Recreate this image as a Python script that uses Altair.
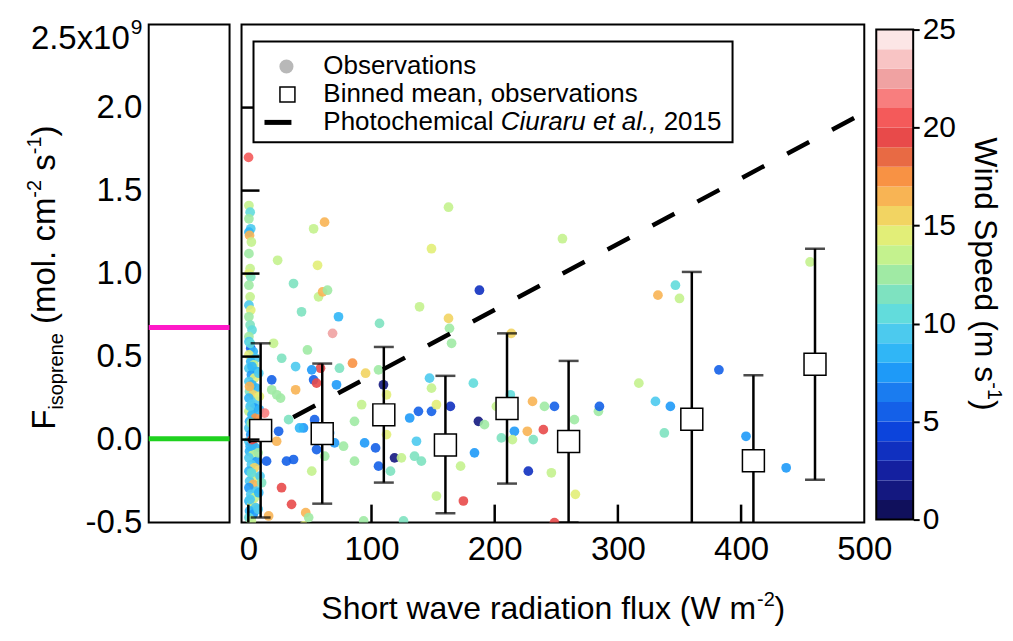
import altair as alt
import pandas as pd

FONT = "Liberation Sans"

# ---------------- data ----------------
# dense column of observations at (near) zero radiation: x, y (1e9 molec cm-2 s-1), wind speed
col_x = [0.5, 1.5, 0.5, 2, 0.5, 1, 2.5, 0.5, 1.5, 0.5, 2, 0.5, 1.5, 0.5, 2, 0.5, 1.5, 3, 0.5,
         0.5, 2, 4, 0.5, 6, 2, 4.5, 0.5, 7, 2.5, 5, 0.5, 3, 6.5, 1, 4, 0.5, 7, 2.5, 5, 0.5, 3, 6,
         1, 4, 0.5, 7.5, 2, 5, 0.5, 3.5, 6, 1, 4, 0.5, 7, 2.5, 5, 0.5, 3, 6, 1, 4, 0.5, 7, 2, 5,
         0.5, 3, 6, 1, 4, 0.5, 2.5, 1.5, 3, 1.5, 2.5, 1.5, 2.5, 1.5, 3, 1,
         8.5, 9, 8, 9.5, 8.5, 9, 8]
col_y = [1.41, 1.37, 1.33, 1.27, 1.25, 1.23, 1.19, 1.12, 1.03, 1.00, 0.98, 0.93, 0.86, 0.81, 0.78, 0.74, 0.69, 0.66, 0.62,
         0.59, 0.55, 0.53, 0.51, 0.49, 0.47, 0.45, 0.43, 0.41, 0.39, 0.37, 0.35, 0.33, 0.31, 0.29, 0.27, 0.25, 0.23, 0.21, 0.19, 0.17, 0.15, 0.13,
         0.11, 0.09, 0.07, 0.05, 0.03, 0.01, -0.01, -0.03, -0.05, -0.07, -0.09, -0.11, -0.13, -0.15, -0.17, -0.19, -0.21, -0.23, -0.25, -0.27, -0.29, -0.31, -0.33, -0.35,
         -0.37, -0.39, -0.41, -0.43, -0.45, -0.47, -0.49, 0.58, 0.44, 0.20, 0.10, -0.04, -0.20, -0.36, 0.00, 0.32,
         0.40, 0.18, -0.08, -0.22, -0.32, 0.26, -0.42]
col_ws = [13.5, 10.5, 12.5, 9, 8, 16, 13, 12.5, 13.5, 14.5, 11, 12.5, 13, 9, 14.5, 12.5, 11, 10, 12.5,
          9, 5, 8.5, 14.5, 9.5, 8, 13, 9.5, 8, 7.5, 14, 9, 8.5, 8.5, 11, 15, 8, 9.5, 9.5, 7, 13.5, 8.5, 17,
          8.5, 9, 9, 14.5, 7.5, 11, 9, 18.5, 8.5, 8, 13.5, 9.5, 7.5, 9, 15, 8.5, 11, 14, 9, 16.5, 7.5, 9, 9.5, 13,
          8, 14.5, 9, 8.5, 7, 10, 13.5, 10, 8, 9, 12.5, 8, 10, 9, 19, 16,
          9, 8, 12.5, 9.5, 8.5, 14, 9]

# scattered observations at non-zero radiation
obs_x = [0.2, 23.8, 36.7, 43.2, 53.0, 61.9, 56.2, 57.0, 60.3, 64.3, 73.2, 68.4, 106.5, 139, 148.7, 162.5, 187.6,
         162.5, 163.3, 165, 213.5, 20.5, 48, 255, 332.5, 346.7, 350, 456, 382, 317, 330.5, 342.6, 337.7, 240.4,
         248.5, 264.7, 284.2, 285, 239.5, 246, 265.5, 248.5, 404, 436.6, 84.6, 95.2, 105.7, 58.6, 74, 51.5, 53,
         55.4, 71.6, 109.7, 112.2, 147.1, 148.7, 182.7, 92, 86.2, 53.8, 44.8, 138.1, 131, 148.7, 152.7, 164,
         186.8, 191.7, 212.7, 201.4, 230.7, 216, 226.5, 231.3, 205.4, 214.4, 112.2, 136.5, 134.9, 140.5, 94.4,
         103.3, 77.3, 70, 55.4, 62, 86.2, 118.7, 124.3, 105.7, 115.4, 183.6, 172.3, 227.3, 51.5, 152.7, 174.6,
         46.6, 93.6, 126, 19, 27.1, 38.4, 38.4, 19, 23.1, 26.2, 41.6, 32.7, 24.6, 13.2, 23, 14.8, 31, 36.7, 10.8,
         27, 35.1, 45, 16.5, 49, 66]
obs_y = [1.70, 1.08, 0.94, 0.77, 1.27, 1.31, 1.05, 0.86, 0.89, 0.90, 0.74, 0.64, 0.70, 0.80, 1.15, 1.40, 0.90,
         0.73, 0.67, 0.58, 0.64, 0.58, 0.54, 1.21, 0.87, 0.93, 0.85, 1.07, 0.42, 0.34, 0.23, 0.20, 0.04, 0.20,
         0.20, 0.12, 0.17, 0.20, 0.06, -0.20, -0.33, -0.50, 0.02, -0.17, 0.46, 0.40, 0.42, 0.43, 0.43, 0.42, 0.36,
         0.34, 0.33, 0.33, 0.27, 0.37, 0.31, 0.34, 0.21, 0.11, 0.12, 0.07, 0.17, 0.13, 0.17, 0.21, 0.20,
         0.11, 0.09, 0.27, 0.20, 0.23, 0.05, 0.05, 0.00, 0.01, 0.00, 0.03, -0.01, -0.10, -0.13, -0.02,
         -0.05, -0.04, -0.02, -0.06, -0.10, -0.13, -0.11, -0.11, -0.16, -0.19, -0.08, -0.16, -0.19, -0.19, -0.34, -0.37,
         -0.44, -0.49, -0.49, 0.36, 0.49, 0.44, 0.30, 0.30, 0.27, 0.25, 0.07, 0.12, 0.05, 0.16, -0.01, -0.13, -0.13, -0.12, -0.26,
         -0.29, -0.39, -0.52, -0.46, -0.47, 0.04]
obs_ws = [20, 13.5, 11, 11, 13, 16.5, 14.5, 13.5, 16.5, 12.5, 8.5, 22.5, 11, 13.5, 14.5, 13.5, 3.5,
          15, 12.5, 12.5, 15.5, 13.5, 12.5, 13.5, 16.5, 10.5, 13.5, 13, 5.5, 13.5, 9.5, 7.5, 11, 12.5,
          5, 12.5, 12.5, 5.5, 19, 13.5, 14.8, 19, 7.5, 7.5, 17.5, 15.5, 12.5, 19, 11, 7.5, 5,
          19, 7.5, 1.5, 14, 9.5, 13.5, 10.5, 13.5, 12, 5, 7.5, 5.5, 7.5, 5.5, 14.5, 3.5,
          1.5, 12.5, 10.5, 13.5, 16.5, 7.5, 16.5, 11, 11, 13.5, 14.5, 9, 11, 11, 7.5,
          5, 12.5, 7.5, 5, 12.5, 12.5, 1.5, 13.5, 5, 11, 7.5, 13.5, 3, 13.5, 13.5, 19,
          16, 12.5, 11, 5, 11, 9, 16, 12.5, 12.5, 12, 8, 11, 5, 21, 16.5, 5, 5.5, 5.5, 11,
          19, 19, 14.5, 16.5, 12.5, 7.5]

# binned means with error bars
bin_x = [10, 60, 110, 160, 210, 260, 360, 410, 460]
bin_mean = [0.055, 0.036, 0.149, -0.032, 0.187, -0.012, 0.122, -0.128, 0.454]
bin_lo = [-0.47, -0.386, -0.259, -0.444, -0.265, -0.50, -0.77, -0.64, -0.242]
bin_hi = [0.58, 0.458, 0.558, 0.384, 0.64, 0.474, 1.01, 0.387, 1.15]

# photochemical flux (Ciuraru et al., 2015)
photo_x = [0, 500]
photo_y = [-0.01, 1.97]

# reference levels in the left panel
ref_levels = [0.675, 0.005]
ref_colors = ["#ff19c8", "#1fd21f"]

# colour bar (wind speed, m s-1)
ws_edges = [1, 2, 3, 4, 5, 6, 7, 8, 9, 10, 11, 12, 13, 14, 15, 16, 17, 18, 19, 20, 21, 22, 23, 24]
ws_colors = ["#10105c", "#141880", "#1420a0", "#1030c0", "#0c44dc", "#1460e8", "#1a7cf0", "#1e9af8",
             "#30b6f6", "#4ccaee", "#62dcdc", "#7ee2c0", "#a0eaa4", "#c4f28e", "#e2ee78", "#f2d462",
             "#f8b454", "#f89244", "#e86a44", "#e84a4a", "#f45a5a", "#f87e7e", "#f0a2a2", "#f8c4c4",
             "#fce6e6"]
cb_lo = list(range(0, 25))
cb_hi = list(range(1, 26))
cb_mid = [v + 0.5 for v in cb_lo]

x_ticks = [0, 100, 200, 300, 400, 500]
x_inner_ticks = [0, 100, 200, 300, 400]
y_ticks = [-0.5, 0.0, 0.5, 1.0, 1.5, 2.0, 2.5]
y_inner_ticks = [0.0, 0.5, 1.0, 1.5, 2.0]
cb_ticks = [0, 5, 10, 15, 20, 25]

# ---------------- sizes ----------------
LW, MW, CW, H = 81, 624, 37, 499
TICKFS = 33

obs_df = pd.DataFrame({"x": col_x + obs_x, "y": col_y + obs_y, "ws": col_ws + obs_ws})
bin_df = pd.DataFrame({"x": bin_x, "y": bin_mean, "lo": bin_lo, "hi": bin_hi})
photo_df = pd.DataFrame({"x": photo_x, "y": photo_y})
one = pd.DataFrame({"a": [0]})

xs = alt.Scale(domain=[-5.5, 500], nice=False, zero=False)
ys = alt.Scale(domain=[-0.5, 2.5], nice=False, zero=False)
cscale = alt.Scale(type="threshold", domain=ws_edges, range=ws_colors)

x_axis = alt.Axis(values=x_ticks, labelFontSize=TICKFS, labelFont=FONT, labelColor="black", ticks=False,
                  domain=False, grid=False, labelPadding=11, title=None, labelFlush=False, labelOverlap=False)


def X(field="x"):
    return alt.X(f"{field}:Q", scale=xs, axis=x_axis)


def Y(field="y"):
    return alt.Y(f"{field}:Q", scale=ys, axis=None)


def txt(text, x, y, size, angle=0, align="left", baseline="alphabetic", style="normal", dy=0):
    return alt.Chart(one).mark_text(text=text, fontSize=size, font=FONT, angle=angle, align=align,
                                    baseline=baseline, fontStyle=style, color="black", dy=dy).encode(
        x=alt.value(x), y=alt.value(y))


# ---------------- left panel ----------------
left_axis = alt.Axis(values=y_ticks, labelFontSize=TICKFS, labelFont=FONT, labelColor="black", ticks=False,
                     domain=False, grid=False, labelPadding=7, title=None, labelFlush=False, labelOverlap=False,
                     labelExpr="datum.value == 2.5 ? '' : (datum.value < 0 ? '-' + format(-datum.value, '.1f') : format(datum.value, '.1f'))")

left_layers = []
for lvl, col in zip(ref_levels, ref_colors):
    left_layers.append(
        alt.Chart(pd.DataFrame({"y": [lvl]})).mark_rule(color=col, strokeWidth=5).encode(
            y=alt.Y("y:Q", scale=ys, axis=left_axis), x=alt.value(0), x2=alt.value(LW)))

# top label 2.5x10^9
left_layers.append(txt("2.5x10", -19, 0, TICKFS, align="right", baseline="middle", dy=14))
left_layers.append(txt("9", -18, 0, 21, align="left", baseline="middle", dy=3))

# y title  F_isoprene (mol. cm^-2 s^-1), rotated
S, s = 33, 20
yb = -94
left_layers += [
    txt("F", yb, 406, S, angle=270),
    txt("isoprene", yb + 8, 385.8, s, angle=270),
    txt("(mol. cm", yb, 299.9, S, angle=270),
    txt("-2", yb - 14, 173.4, s, angle=270),
    txt("s", yb, 146.4, S, angle=270),
    txt("-1", yb - 14, 129.9, s, angle=270),
    txt(")", yb, 112.1, S, angle=270),
]
left = alt.layer(*left_layers).properties(width=LW, height=H)

# ---------------- main panel ----------------
points = alt.Chart(obs_df).mark_circle(size=95, opacity=0.9, clip=True).encode(
    x=X(), y=Y(), color=alt.Color("ws:Q", scale=cscale, legend=None))

photo = alt.Chart(photo_df).mark_line(color="black", strokeWidth=4.5, strokeDash=[25, 26], clip=True).encode(
    x=X(), y=Y())

err = alt.Chart(bin_df).mark_rule(color="black", strokeWidth=2.5, clip=True).encode(
    x=X(), y=Y("lo"), y2="hi:Q")
cap_lo = alt.Chart(bin_df).mark_tick(color="black", orient="horizontal", size=20, thickness=2.5, clip=True).encode(
    x=X(), y=Y("lo"))
cap_hi = alt.Chart(bin_df).mark_tick(color="black", orient="horizontal", size=20, thickness=2.5, clip=True).encode(
    x=X(), y=Y("hi"))
squares = alt.Chart(bin_df).mark_square(size=484, fill="white", stroke="black", strokeWidth=1.5, opacity=1).encode(
    x=X(), y=Y())

xt = alt.Chart(pd.DataFrame({"x": x_inner_ticks})).mark_rule(color="black", strokeWidth=2.5).encode(
    x=X(), y=alt.value(H), y2=alt.value(H - 18))
yt = alt.Chart(pd.DataFrame({"y": y_inner_ticks})).mark_rule(color="black", strokeWidth=2.5).encode(
    y=Y(), x=alt.value(0), x2=alt.value(18))

# legend (drawn manually)
leg_box = alt.Chart(one).mark_rect(fill="white", stroke="black", strokeWidth=2).encode(
    x=alt.value(12), x2=alt.value(492), y=alt.value(17), y2=alt.value(118))
leg_circle = alt.Chart(one).mark_circle(size=200, color="#b8b8b8", opacity=1).encode(
    x=alt.value(45), y=alt.value(42))
leg_square = alt.Chart(one).mark_square(size=225, fill="white", stroke="black", strokeWidth=1.5, opacity=1).encode(
    x=alt.value(46), y=alt.value(70))
leg_dash = alt.Chart(one).mark_rule(color="black", strokeWidth=5).encode(
    x=alt.value(23), x2=alt.value(50), y=alt.value(98))
LF = 26
leg_texts = [
    txt("Observations", 82, 42, LF, baseline="middle"),
    txt("Binned mean, observations", 82, 70, LF, baseline="middle"),
    txt("Photochemical", 82, 98, LF, baseline="middle"),
    txt("Ciuraru et al.,", 259.7, 98, LF, baseline="middle", style="italic"),
    txt("2015", 423, 98, LF, baseline="middle"),
]

# x title
xtitle = [
    txt("Short wave radiation flux (W m", 80, 596, 32),
    txt("-2", 516.5, 583, 20),
    txt(")", 534, 596, 32),
]

main = alt.layer(points, photo, err, cap_lo, cap_hi, squares, xt, yt,
                 leg_box, leg_circle, leg_square, leg_dash, *leg_texts, *xtitle).properties(width=MW, height=H)

# ---------------- colour bar ----------------
cb_df = pd.DataFrame({"lo": cb_lo, "hi": cb_hi, "ws": cb_mid})
cb_scale = alt.Scale(domain=[0, 25], range=[496, 5], nice=False, zero=False)
cb_axis = alt.Axis(values=cb_ticks, orient="right", labelFontSize=30, labelFont=FONT, labelColor="black",
                   tickSize=6, tickWidth=2, tickColor="black", domain=False, grid=False, labelPadding=3,
                   title=None, labelFlush=False, labelOverlap=False)
cb_rect = alt.Chart(cb_df).mark_rect().encode(
    y=alt.Y("lo:Q", scale=cb_scale, axis=cb_axis), y2="hi:Q",
    x=alt.value(0), x2=alt.value(CW), color=alt.Color("ws:Q", scale=cscale, legend=None))
cb_frame = alt.Chart(pd.DataFrame({"lo": [0], "hi": [25]})).mark_rect(
    filled=False, stroke="black", strokeWidth=2).encode(
    y=alt.Y("lo:Q", scale=cb_scale, axis=cb_axis), y2="hi:Q", x=alt.value(0), x2=alt.value(CW))
cb_title = [
    txt("Wind Speed (m s", 99, 113, 32, angle=90),
    txt("-1", 112, 358.4, 20, angle=90),
    txt(")", 99, 376.2, 32, angle=90),
]
cbar = alt.layer(cb_rect, cb_frame, *cb_title).properties(
    width=CW, height=H, view=alt.ViewBackground(stroke="transparent"))

chart = alt.hconcat(left, main, cbar, spacing=12, bounds="flush").resolve_scale(
    x="independent", y="independent", color="independent"
).properties(
    padding={"left": 15, "top": -1, "right": 0, "bottom": 0}
).configure(font=FONT).configure_view(stroke="black", strokeWidth=2)

chart.save("out.html", embed_options={"renderer": "svg", "actions": False})
